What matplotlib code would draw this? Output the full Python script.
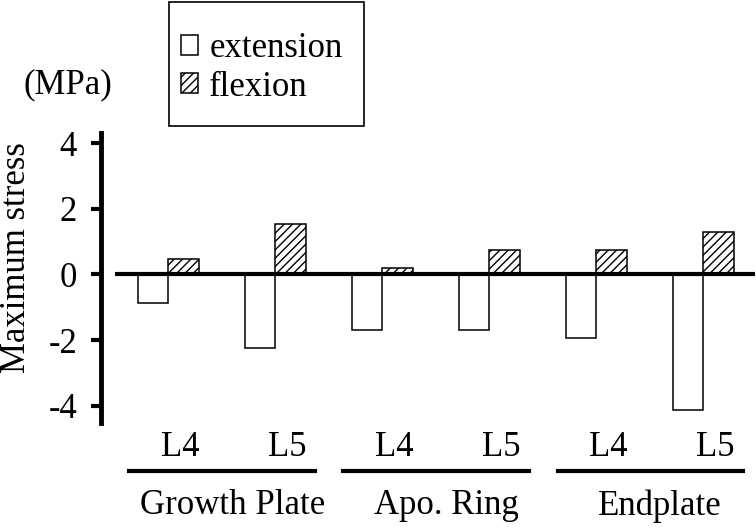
import matplotlib
matplotlib.use("Agg")
import matplotlib.pyplot as plt
import matplotlib.transforms as mtransforms
from matplotlib.lines import Line2D
from matplotlib.patches import Rectangle
import numpy as np

# ---- data ----
levels = ["L4", "L5", "L4", "L5", "L4", "L5"]
groups = ["Growth Plate", "Apo. Ring", "Endplate"]
extension = [-0.88, -2.23, -1.70, -1.70, -1.95, -4.12]
flexion = [0.48, 1.55, 0.20, 0.74, 0.74, 1.28]
yticks = [-4, -2, 0, 2, 4]

plt.rcParams['font.family'] = ['Liberation Serif', 'DejaVu Serif']
plt.rcParams['hatch.linewidth'] = 1.0
FS = 25

W, H = 756, 527
fig = plt.figure(figsize=(W / 100, H / 100), dpi=100)
ax = fig.add_axes([100.7 / W, (H - 423) / H, (W - 100.7) / W, 290 / H])

x = np.arange(len(levels))
bw = 0.285
ax.bar(x - bw / 2, extension, bw, facecolor='white', edgecolor='black',
       linewidth=1.1, label='extension', zorder=2)
ax.bar(x + bw / 2, flexion, bw, facecolor='white', edgecolor='black',
       linewidth=1.1, hatch='////', label='flexion', zorder=2)

ax.hlines(0, -0.495, 5.49, color='black', linewidth=3.0, zorder=3)

ax.set_xlim(-0.629, 5.495)
ax.set_ylim(-4.53, 4.31)
ax.set_yticks(yticks)
ax.set_yticklabels([str(v) for v in yticks])
ax.set_xticks([])
ax.tick_params(axis='y', direction='out', length=7, width=3, pad=10, labelsize=FS)
for s in ['top', 'right', 'bottom']:
    ax.spines[s].set_visible(False)
ax.spines['left'].set_linewidth(3.5)

ax.set_ylabel('Maximum stress', fontsize=FS)
ax.yaxis.label.set_va('center')
ax.yaxis.set_label_coords(-0.128, 0.572)

# category labels below the axis
trans = mtransforms.blended_transform_factory(ax.transData, fig.transFigure)
for i, lab in enumerate(levels):
    ax.text(i + 0.11, 1 - 448 / H, lab, transform=trans, ha='center', va='center',
            fontsize=FS, clip_on=False)
for g, name in enumerate(groups):
    ax.add_line(Line2D([2 * g - 0.36, 2 * g + 1.37], [1 - 471 / H] * 2, transform=trans,
                       color='black', linewidth=3.0, clip_on=False))
    ax.text(2 * g + 0.6, 1 - 506 / H, name, transform=trans, ha='center', va='center',
            fontsize=FS, clip_on=False)

fig.text(68 / W, 1 - 85 / H, '(MPa)', ha='center', va='center', fontsize=FS)

# legend box + legend
box = Rectangle((169.3 / W, 1 - 126 / H), (364 - 169.3) / W, (126 - 1.7) / H,
                transform=fig.transFigure, facecolor='none',
                edgecolor='black', linewidth=1.2)
fig.add_artist(box)
leg = fig.legend(*ax.get_legend_handles_labels(), loc='center left',
                 bbox_to_anchor=(180.7 / W, 1 - 68 / H),
                 bbox_transform=fig.transFigure, frameon=False, borderpad=0,
                 borderaxespad=0, fontsize=FS, handlelength=0.5, handleheight=0.5,
                 handletextpad=0.32, labelspacing=0.15)

fig.savefig('out.png', dpi=100)
